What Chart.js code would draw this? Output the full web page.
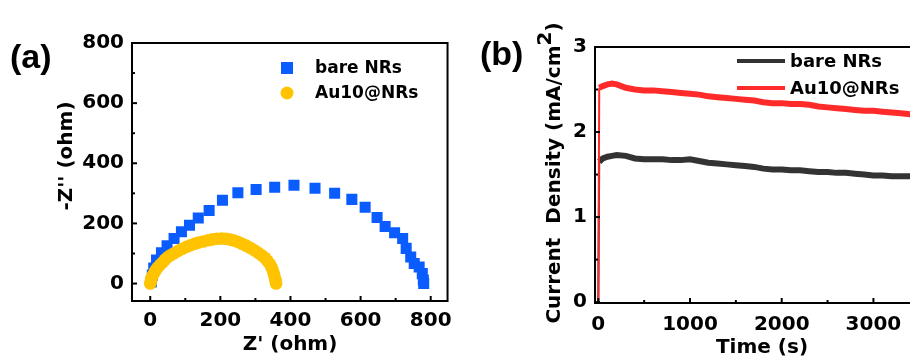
<!DOCTYPE html>
<html>
<head>
<meta charset="utf-8">
<script src="https://cdn.jsdelivr.net/npm/chart.js@4.4.0/dist/chart.umd.min.js"></script>
<style>
    html, body { margin: 0; padding: 0; background: #fff; overflow: hidden; }
    #wrap { position: relative; width: 910px; height: 361px; overflow: hidden; }
    #eis { position: absolute; left: 0; top: 0; }
    #ct { position: absolute; left: 460px; top: 0; }
</style>
</head>
<body>
<div id="wrap">
    <canvas id="eis" width="460" height="361"></canvas>
    <canvas id="ct" width="500" height="361"></canvas>
</div>
<script>
// (a) Nyquist plot: Z' and -Z'' in ohm
const bareZre = [3, 6, 10, 18, 32, 48, 68, 89, 112, 137, 168, 206, 250, 302, 355, 410, 470, 526, 575, 613, 647, 670, 697, 720, 730, 743, 753, 767, 776, 779, 780];
const bareZim = [5, 28, 52, 78, 102, 126, 150, 172, 194, 218, 243, 277, 302, 313, 320, 327, 317, 300, 280, 254, 220, 190, 169, 150, 117, 88, 67, 55, 33, 12, 0];
const auZre = [0, 2, 3, 7, 12, 16, 21, 28, 35, 42, 49, 58, 68, 80, 91, 103, 114, 126, 137, 151, 165, 178, 191, 204, 216, 228, 239, 251, 262, 274, 285, 297, 308, 318, 327, 334, 341, 346, 350, 353, 356, 358, 359];
const auZim = [0, 8, 17, 27, 37, 45, 53, 62, 70, 79, 87, 94, 101, 109, 116, 122, 127, 132, 136, 140, 144, 147, 149, 150, 149, 146, 143, 138, 132, 126, 119, 111, 102, 94, 86, 76, 65, 54, 43, 31, 17, 8, 0];
const eisXTicks = [0, 200, 400, 600, 800];
const eisYTicks = [0, 200, 400, 600, 800];

// (b) current density vs time
const timeS = [0, 10, 50, 100, 150, 200, 300, 400, 500, 600, 700, 800, 900, 1000, 1100, 1200, 1300, 1400, 1500, 1600, 1700, 1800, 1900, 2000, 2100, 2200, 2300, 2400, 2500, 2600, 2700, 2800, 2900, 3000, 3100, 3200, 3300, 3400, 3500, 3600];
const bareJ = [0, 1.65, 1.69, 1.71, 1.72, 1.73, 1.72, 1.69, 1.68, 1.68, 1.68, 1.67, 1.67, 1.68, 1.66, 1.64, 1.63, 1.62, 1.61, 1.60, 1.59, 1.57, 1.56, 1.56, 1.55, 1.55, 1.54, 1.53, 1.53, 1.52, 1.52, 1.51, 1.50, 1.49, 1.49, 1.48, 1.48, 1.48, 1.48, 1.48];
const auJ = [0, 2.52, 2.54, 2.56, 2.57, 2.56, 2.52, 2.50, 2.49, 2.49, 2.48, 2.47, 2.46, 2.45, 2.44, 2.42, 2.41, 2.40, 2.39, 2.38, 2.37, 2.35, 2.34, 2.34, 2.33, 2.33, 2.32, 2.30, 2.29, 2.28, 2.27, 2.26, 2.25, 2.25, 2.24, 2.23, 2.22, 2.21, 2.20, 2.20];
const ctXTicks = [0, 1000, 2000, 3000];
const ctYTicks = [0, 1, 2, 3];

const FONT = '"DejaVu Sans"';
const tickFont = { family: FONT, size: 20, weight: 'bold' };
Chart.defaults.font.family = FONT;
Chart.defaults.color = '#000';

const pts = (xs, ys) => xs.map((x, i) => ({ x: x, y: ys[i] }));

// box, inward ticks, titles, panel label and legend
const framePlugin = {
    id: 'frame',
    afterDraw(chart, args, o) {
        const { ctx, chartArea: a, scales } = chart;
        ctx.save();
        ctx.strokeStyle = '#000';
        ctx.lineWidth = 2;
        ctx.strokeRect(a.left, a.top, a.right - a.left, a.bottom - a.top);

        const drawTicks = (scale, vals, horiz) => {
            const minors = vals.slice(1).map((v, i) => (v + vals[i]) / 2);
            minors.push(vals[vals.length - 1] + (vals[1] - vals[0]) / 2);
            [[vals, 5], [minors, 3]].forEach(([list, len]) => {
                list.forEach(v => {
                    const p = scale.getPixelForValue(v);
                    if (horiz ? (p < a.left || p > a.right) : (p < a.top || p > a.bottom)) return;
                    ctx.beginPath();
                    if (horiz) { ctx.moveTo(p, a.bottom); ctx.lineTo(p, a.bottom - len); }
                    else { ctx.moveTo(a.left, p); ctx.lineTo(a.left + len, p); }
                    ctx.stroke();
                });
            });
        };
        drawTicks(scales.x, o.xTicks, true);
        drawTicks(scales.y, o.yTicks, false);

        ctx.fillStyle = '#000';
        ctx.textBaseline = 'middle';

        // panel label
        ctx.font = 'bold 34px "Liberation Sans"';
        ctx.textAlign = 'left';
        ctx.fillText(o.panel[0], o.panel[1], o.panel[2]);

        // x title
        ctx.font = 'bold 20px ' + FONT;
        ctx.textAlign = 'center';
        ctx.fillText(o.xTitle[0], o.xTitle[1], o.xTitle[2]);

        // y title, rotated; optional superscript part
        ctx.save();
        ctx.translate(o.yTitle[1], o.yTitle[2]);
        ctx.rotate(-Math.PI / 2);
        const parts = o.yTitle[0];
        const widths = parts.map(p => ctx.measureText(p.t).width);
        let x0 = -widths.reduce((s, w) => s + w, 0) / 2;
        ctx.textAlign = 'left';
        parts.forEach((p, i) => {
            ctx.fillText(p.t, x0, p.sup ? -9 : 0);
            x0 += widths[i];
        });
        ctx.restore();

        // legend
        ctx.font = 'bold ' + o.legend.size + 'px ' + FONT;
        ctx.textAlign = 'left';
        chart.data.datasets.forEach((ds, i) => {
            const lx = o.legend.x, ly = o.legend.y[i];
            ctx.fillStyle = ds.borderColor;
            ctx.strokeStyle = ds.borderColor;
            if (o.legend.kind === 'line') {
                ctx.lineWidth = 4;
                ctx.beginPath();
                ctx.moveTo(lx, ly);
                ctx.lineTo(lx + 48, ly);
                ctx.stroke();
            } else if (ds.pointStyle === 'rect') {
                ctx.fillRect(lx - 6, ly - 6, 12, 12);
            } else {
                ctx.beginPath();
                ctx.arc(lx, ly, 6.5, 0, Math.PI * 2);
                ctx.fill();
            }
            ctx.fillStyle = '#000';
            ctx.fillText(ds.label, o.legend.textX, ly + 1);
        });
        ctx.restore();
    }
};

function pinnedTicks(list) {
    return scale => { scale.ticks = list.map(v => ({ value: v })); };
}
const plainLabel = v => String(v);

// (a) EIS
new Chart(document.getElementById('eis'), {
    type: 'scatter',
    data: {
        datasets: [
            {
                label: 'bare NRs',
                data: pts(bareZre, bareZim),
                pointStyle: 'rect',
                pointRadius: 7.8,
                borderWidth: 0,
                backgroundColor: '#0a5cff',
                borderColor: '#0a5cff',
                order: 1
            },
            {
                label: 'Au10@NRs',
                data: pts(auZre, auZim),
                pointStyle: 'circle',
                pointRadius: 6.3,
                borderWidth: 0,
                backgroundColor: '#ffc300',
                borderColor: '#ffc300',
                order: 0
            }
        ]
    },
    options: {
        responsive: false,
        devicePixelRatio: 1,
        animation: false,
        layout: { padding: { top: 43, right: 4, left: 0, bottom: 0 } },
        plugins: {
            legend: { display: false },
            tooltip: { enabled: false },
            frame: {
                xTicks: eisXTicks,
                yTicks: eisYTicks,
                panel: ['(a)', 10, 59],
                xTitle: ["Z' (ohm)", 290, 345],
                yTitle: [[{ t: "-Z'' (ohm)" }], 67, 156],
                legend: { kind: 'marker', x: 287, y: [68, 93], textX: 315, size: 17 }
            }
        },
        scales: {
            x: {
                type: 'linear',
                min: -52,
                max: 848,
                afterBuildTicks: pinnedTicks(eisXTicks),
                afterFit: s => { s.height = 60; },
                grid: { display: false, drawTicks: false },
                border: { display: false },
                ticks: { padding: 8, font: tickFont, color: '#000', callback: plainLabel }
            },
            y: {
                type: 'linear',
                min: -58,
                max: 800,
                afterBuildTicks: pinnedTicks(eisYTicks),
                afterFit: s => { s.width = 132; },
                grid: { display: false, drawTicks: false },
                border: { display: false },
                ticks: { padding: 8, font: tickFont, color: '#000', callback: plainLabel }
            }
        }
    },
    plugins: [framePlugin]
});

// (b) i-t; the switch-on jump is drawn thin
const thinJump = ctx => ctx.p0DataIndex === 0 ? 2 : 6;

new Chart(document.getElementById('ct'), {
    type: 'line',
    data: {
        datasets: [
            {
                label: 'bare NRs',
                data: pts(timeS, bareJ),
                borderColor: '#333333',
                backgroundColor: '#333333',
                borderWidth: 6,
                segment: { borderWidth: thinJump },
                pointRadius: 0,
                tension: 0,
                order: 1
            },
            {
                label: 'Au10@NRs',
                data: pts(timeS, auJ),
                borderColor: '#ff2b2b',
                backgroundColor: '#ff2b2b',
                borderWidth: 6,
                segment: { borderWidth: thinJump },
                pointRadius: 0,
                tension: 0,
                order: 0
            }
        ]
    },
    options: {
        responsive: false,
        devicePixelRatio: 1,
        animation: false,
        layout: { padding: { top: 47, right: 20, left: 0, bottom: 0 } },
        plugins: {
            legend: { display: false },
            tooltip: { enabled: false },
            frame: {
                xTicks: ctXTicks,
                yTicks: ctYTicks,
                panel: ['(b)', 20, 56],
                xTitle: ['Time (s)', 302, 348],
                yTitle: [[{ t: 'Current  Density (mA/cm' }, { t: '2', sup: true }, { t: ')' }], 95, 173],
                legend: { kind: 'line', x: 277, y: [61, 88], textX: 330, size: 18 }
            }
        },
        scales: {
            x: {
                type: 'linear',
                min: -36,
                max: 3726,
                afterBuildTicks: pinnedTicks(ctXTicks),
                afterFit: s => { s.height = 58; },
                grid: { display: false, drawTicks: false },
                border: { display: false },
                ticks: { padding: 10, font: tickFont, color: '#000', callback: plainLabel }
            },
            y: {
                type: 'linear',
                min: -0.01,
                max: 3,
                afterBuildTicks: pinnedTicks(ctYTicks),
                afterFit: s => { s.width = 135; },
                grid: { display: false, drawTicks: false },
                border: { display: false },
                ticks: { padding: 8, font: tickFont, color: '#000', callback: plainLabel }
            }
        }
    },
    plugins: [framePlugin]
});
</script>
</body>
</html>
